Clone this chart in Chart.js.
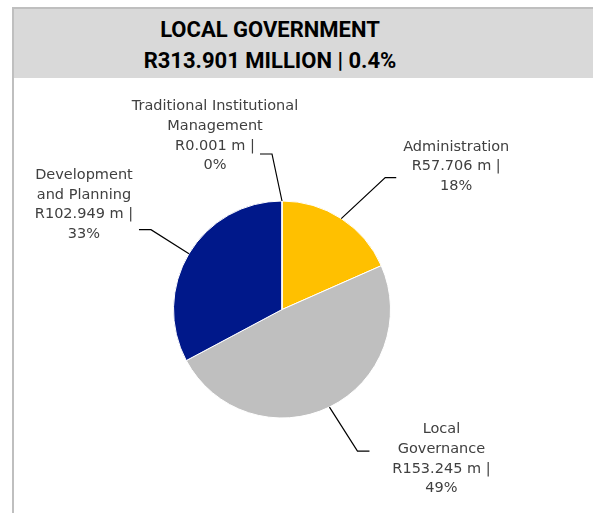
<!DOCTYPE html>
<html>
<head>
<meta charset="utf-8">
<title>Local Government</title>
<script src="https://cdn.jsdelivr.net/npm/chart.js@4.4.0/dist/chart.umd.min.js"></script>
<style>
  body { margin: 0; background: #fff; width: 593px; height: 513px; overflow: hidden; position: relative; }
  #frame { position: absolute; left: 12px; top: 7px; width: 620px; height: 540px;
           border-left: 2px solid #bfbfbf; border-top: 2px solid #bfbfbf; }
  #header { position: absolute; left: 14px; top: 9px; width: 579px; height: 69px; background: #d9d9d9; }
  #title { position: absolute; left: 0; top: 5px; width: 512px; text-align: center;
           font: 700 22px Roboto, sans-serif; line-height: 31px; color: #000; }
  #pie { position: absolute; left: 0; top: 0; }
</style>
</head>
<body>
<div id="frame"></div>
<div id="header"><div id="title">LOCAL GOVERNMENT<br>R313.901 MILLION | 0.4%</div></div>
<canvas id="pie" width="593" height="513"></canvas>
<script>
// Budget programmes, R million
const categories = ['Administration', 'Local Governance', 'Development and Planning', 'Traditional Institutional Management'];
const amounts = [57.706, 153.245, 102.949, 0.001];
const colors = ['#ffc000', '#bfbfbf', '#00188a', '#7f7f7f'];

// leader line bend (from the slice edge), horizontal leg, label block centre (from leg end), wrap width
const labelLayout = [
  { bend: [44, -41], leg: 11, text: [60, -11], wrap: 120 },
  { bend: [28, 44], leg: 12, text: [72, 8], wrap: 110 },
  { bend: [-38, -24], leg: -12, text: [-55, -25], wrap: 110 },
  { bend: [-10, -47], leg: -12, text: [-45, -18], wrap: 175 }
];

const total = amounts.reduce((a, b) => a + b, 0);

function wrapText(ctx, text, maxWidth) {
  const words = text.split(' ');
  const lines = [];
  let line = '';
  words.forEach(w => {
    const test = line ? line + ' ' + w : w;
    if (line && ctx.measureText(test).width > maxWidth) {
      lines.push(line);
      line = w;
    } else {
      line = test;
    }
  });
  if (line) lines.push(line);
  return lines;
}

// draws the callout labels with elbow leader lines
const calloutPlugin = {
  id: 'callouts',
  afterDraw(chart) {
    const ctx = chart.ctx;
    const meta = chart.getDatasetMeta(0);
    ctx.save();
    ctx.font = '14.5px "DejaVu Sans"';
    meta.data.forEach((arc, i) => {
      const p = arc.getProps(['x', 'y', 'startAngle', 'endAngle', 'outerRadius'], true);
      const mid = (p.startAngle + p.endAngle) / 2;
      const ax = p.x + Math.cos(mid) * p.outerRadius;
      const ay = p.y + Math.sin(mid) * p.outerRadius;
      const lay = labelLayout[i];
      const bx = ax + lay.bend[0];
      const by = ay + lay.bend[1];
      const ex = bx + lay.leg;

      ctx.strokeStyle = '#000';
      ctx.lineWidth = 1.2;
      ctx.beginPath();
      ctx.moveTo(ax, ay);
      ctx.lineTo(bx, by);
      ctx.lineTo(ex, by);
      ctx.stroke();

      const value = amounts[i];
      const pct = Math.round(value / total * 100);
      const lines = wrapText(ctx, categories[i], lay.wrap)
        .concat(['R' + value.toFixed(3) + ' m |', pct + '%']);
      const lh = 19.7;
      const cx = ex + lay.text[0];
      const cy = by + lay.text[1];
      const y0 = cy - (lines.length - 1) * lh / 2;
      ctx.fillStyle = '#404040';
      ctx.textAlign = 'center';
      ctx.textBaseline = 'middle';
      lines.forEach((t, k) => ctx.fillText(t, cx, y0 + k * lh));
    });
    ctx.restore();
  }
};

new Chart(document.getElementById('pie'), {
  type: 'pie',
  data: {
    labels: categories,
    datasets: [{
      data: amounts,
      backgroundColor: colors,
      borderColor: '#ffffff',
      borderWidth: 1
    }]
  },
  options: {
    responsive: false,
    animation: false,
    layout: { padding: { left: 173, right: 202, top: 200, bottom: 94 } },
    plugins: {
      legend: { display: false },
      tooltip: { enabled: false }
    }
  },
  plugins: [calloutPlugin]
});
</script>
</body>
</html>
